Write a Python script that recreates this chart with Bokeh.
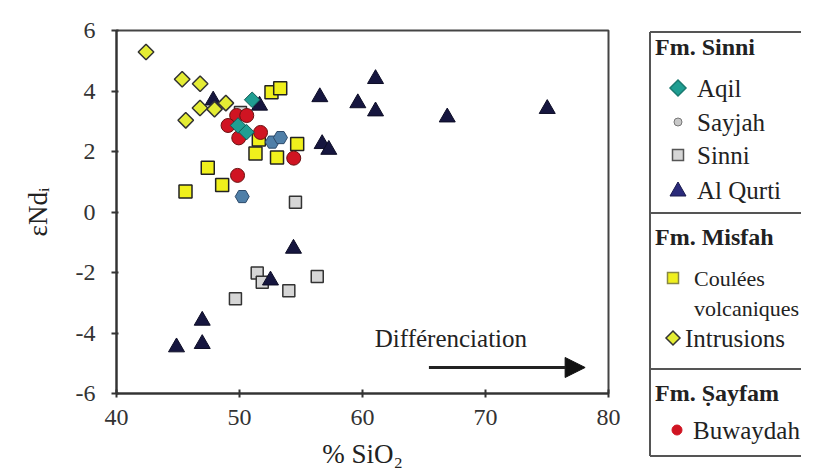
import math
from bokeh.plotting import figure
from bokeh.layouts import row
from bokeh.models import Range1d, FixedTicker, Label, Arrow, NormalHead, Div
from bokeh.embed import file_html
from bokeh.resources import INLINE

FONT = "Liberation Serif"

# ---------------- data ----------------
aqil_x = [51.03, 49.88, 50.57]
aqil_y = [3.71, 2.86, 2.64]

sayjah_x = [50.22, 52.66, 53.33]
sayjah_y = [0.51, 2.31, 2.46]

sinni_x = [49.67, 51.44, 51.85, 54.01, 56.32, 54.55, 50.08]
sinni_y = [-2.87, -2.02, -2.32, -2.60, -2.13, 0.32, 3.29]

qurti_x = [44.88, 46.97, 46.97, 52.52, 54.39, 47.86, 51.63, 56.53, 59.62, 61.06, 61.06, 66.89, 75.02, 56.72, 57.26]
qurti_y = [-4.47, -3.59, -4.36, -2.26, -1.21, 3.69, 3.52, 3.80, 3.60, 4.40, 3.33, 3.13, 3.41, 2.25, 2.06]

coulees_x = [45.61, 47.42, 48.59, 51.30, 51.57, 53.05, 54.69, 52.60, 53.31]
coulees_y = [0.68, 1.46, 0.89, 1.93, 2.40, 1.80, 2.25, 3.96, 4.09]

intrusions_x = [42.40, 45.34, 46.80, 46.79, 47.97, 48.89, 45.63]
intrusions_y = [5.29, 4.39, 4.24, 3.44, 3.40, 3.60, 3.03]

buwaydah_x = [49.77, 50.59, 49.07, 49.94, 51.71, 54.41, 49.84]
buwaydah_y = [3.19, 3.19, 2.86, 2.45, 2.63, 1.78, 1.21]

x_ticks = [40, 50, 60, 70, 80]
x_tick_labels = ["40", "50", "60", "70", "80"]
y_ticks = [-6, -4, -2, 0, 2, 4, 6]
y_tick_labels = ["-6", "-4", "-2", "0", "2", "4", "6"]

x_title = "% SiO₂"
y_title = "εNdᵢ"
annot_text = "Différenciation"

legend_groups = ["Fm. Sinni", "Fm. Misfah", "Fm. Ṣayfam"]
legend_sinni = ["Aqil", "Sayjah", "Sinni", "Al Qurti"]
legend_misfah = ["Coulées", "volcaniques", "Intrusions"]
legend_sayfam = ["Buwaydah"]

# ---------------- styles ----------------
C_AQIL = "#1f9e92"
C_SAYJAH = "#4f7fa8"
C_SINNI = "#d6d6d6"
C_QURTI = "#16163f"
C_COUL = "#f0f01c"
C_INTR = "#e4ec34"
C_BUW = "#d01422"
TXT = "#222222"

p = figure(frame_width=492, frame_height=363,
           x_range=Range1d(40, 80), y_range=Range1d(-6, 6),
           output_backend="svg", toolbar_location=None,
           min_border_left=116, min_border_right=40,
           min_border_top=30, min_border_bottom=65,
           background_fill_color="white", border_fill_color="white")
p.grid.visible = False
p.outline_line_color = "#444444"
p.outline_line_width = 2

for ax in (p.xaxis[0], p.yaxis[0]):
    ax.axis_line_color = "#333333"
    ax.axis_line_width = 2
    ax.major_tick_line_color = "#333333"
    ax.major_tick_line_width = 2
    ax.minor_tick_line_color = None
    ax.major_label_text_font = FONT
    ax.major_label_text_font_size = "24px"
    ax.major_label_text_color = "#333333"
    ax.axis_label_text_font = FONT
    ax.axis_label_text_font_size = "27px"
    ax.axis_label_text_font_style = "normal"
    ax.axis_label_text_color = TXT

p.xaxis.ticker = FixedTicker(ticks=x_ticks)
p.xaxis.major_label_overrides = {t: l for t, l in zip(x_ticks, x_tick_labels)}
p.xaxis.major_tick_in = 4
p.xaxis.major_tick_out = 4
p.xaxis.major_label_standoff = 12
p.xaxis.axis_label = x_title
p.xaxis.axis_label_standoff = 11

p.yaxis.ticker = FixedTicker(ticks=y_ticks)
p.yaxis.major_label_overrides = {t: l for t, l in zip(y_ticks, y_tick_labels)}
p.yaxis.major_tick_in = 2
p.yaxis.major_tick_out = 5
p.yaxis.major_label_standoff = 16
p.yaxis.axis_label = y_title
p.yaxis.axis_label_standoff = 20

# markers
p.scatter(sinni_x, sinni_y, marker="square", size=12, fill_color=C_SINNI,
          line_color="#333333", line_width=1.5)
p.scatter(qurti_x, qurti_y, marker="triangle", size=16, fill_color=C_QURTI,
          line_color="#0d0d26", line_width=1)
p.scatter(intrusions_x, intrusions_y, marker="square", angle=math.pi / 4, size=11,
          fill_color=C_INTR, line_color="#333333", line_width=1.5)
p.scatter(coulees_x, coulees_y, marker="square", size=13, fill_color=C_COUL,
          line_color="#222222", line_width=1.5)
p.scatter(sayjah_x, sayjah_y, marker="hex", size=14, fill_color=C_SAYJAH,
          line_color="#2d4a6a", line_width=1)
p.scatter(buwaydah_x, buwaydah_y, marker="circle", size=14, fill_color=C_BUW,
          line_color="#6a1010", line_width=1)
p.scatter(aqil_x, aqil_y, marker="square", angle=math.pi / 4, size=11,
          fill_color=C_AQIL, line_color="#145a55", line_width=1)

# arrow + text
p.add_layout(Arrow(end=NormalHead(size=20, fill_color="#111111", line_color="#111111"),
                   x_start=65.4, y_start=-5.14, x_end=78.1, y_end=-5.14,
                   line_color="#222222", line_width=3))
p.add_layout(Label(x=61.0, y=-4.18, text=annot_text, text_font=FONT,
                   text_font_size="25px", text_color=TXT, text_baseline="middle"))

# ---------------- legend panel (inline SVG in a Div) ----------------
LW, LH = 153, 458
box_l, box_t, div1, div2, box_b = 2, 32, 213, 369, 456


def svg_text(x, y, s, size=24, bold=False):
    weight = "bold" if bold else "normal"
    style = (f"font-family:'{FONT}', serif; font-size:{size}px; "
             f"font-weight:{weight}; fill:{TXT}")
    return (f'<text x="{x}" y="{y}" style="{style}" '
            f'dominant-baseline="central">{s}</text>')


def diamond(cx, cy, r, fill, stroke):
    pts = f"{cx},{cy - r} {cx + r},{cy} {cx},{cy + r} {cx - r},{cy}"
    return f'<polygon points="{pts}" fill="{fill}" stroke="{stroke}" stroke-width="1.5"/>'


def square(cx, cy, h, fill, stroke):
    return (f'<rect x="{cx - h}" y="{cy - h}" width="{2 * h}" height="{2 * h}" '
            f'fill="{fill}" stroke="{stroke}" stroke-width="1.5"/>')


def circle(cx, cy, r, fill, stroke):
    return f'<circle cx="{cx}" cy="{cy}" r="{r}" fill="{fill}" stroke="{stroke}" stroke-width="1"/>'


def triangle(cx, cy, r, fill, stroke):
    pts = f"{cx},{cy - r} {cx + r},{cy + r * 0.75} {cx - r},{cy + r * 0.75}"
    return f'<polygon points="{pts}" fill="{fill}" stroke="{stroke}" stroke-width="1"/>'


parts = [f'<svg xmlns="http://www.w3.org/2000/svg" width="{LW}" height="{LH}" '
         f'style="display:block">']
for yy in (box_t, div1, div2, box_b):
    parts.append(f'<line x1="{box_l}" y1="{yy}" x2="{LW}" y2="{yy}" stroke="#555" stroke-width="2"/>')
parts.append(f'<line x1="{box_l}" y1="{box_t}" x2="{box_l}" y2="{box_b}" stroke="#555" stroke-width="2"/>')

title_y = [47, 237, 393]
for t, yy in zip(legend_groups, title_y):
    parts.append(svg_text(7, yy, t, 24, True))

ys_sinni = [88, 122, 155, 190]
for t, yy in zip(legend_sinni, ys_sinni):
    parts.append(svg_text(49, yy, t, 25))
parts.append(diamond(30, ys_sinni[0], 8, C_AQIL, "#1a7a70"))
parts.append(circle(30, ys_sinni[1], 4, "#c8c8c8", "#777"))
parts.append(square(30, ys_sinni[2], 5.5, C_SINNI, "#555"))
parts.append(triangle(30, ys_sinni[3], 8, "#2a2a7a", "#1a1a4e"))

ys_mis = [278, 308, 338]
for t, xx, yy in zip(legend_misfah, [46, 46, 37], ys_mis):
    parts.append(svg_text(xx, yy, t, 22 if xx == 46 else 25))
parts.append(square(25, ys_mis[0], 5.5, C_COUL, "#888844"))
parts.append(diamond(25, ys_mis[2], 7, C_INTR, "#333"))

ys_say = [430]
for t, yy in zip(legend_sayfam, ys_say):
    parts.append(svg_text(45, yy, t, 25))
parts.append(circle(29, ys_say[0], 5, C_BUW, C_BUW))
parts.append("</svg>")

leg = Div(text="".join(parts), width=LW, height=LH, margin=0)

layout = row(p, leg)
open("out.html", "w").write(file_html(layout, INLINE))
